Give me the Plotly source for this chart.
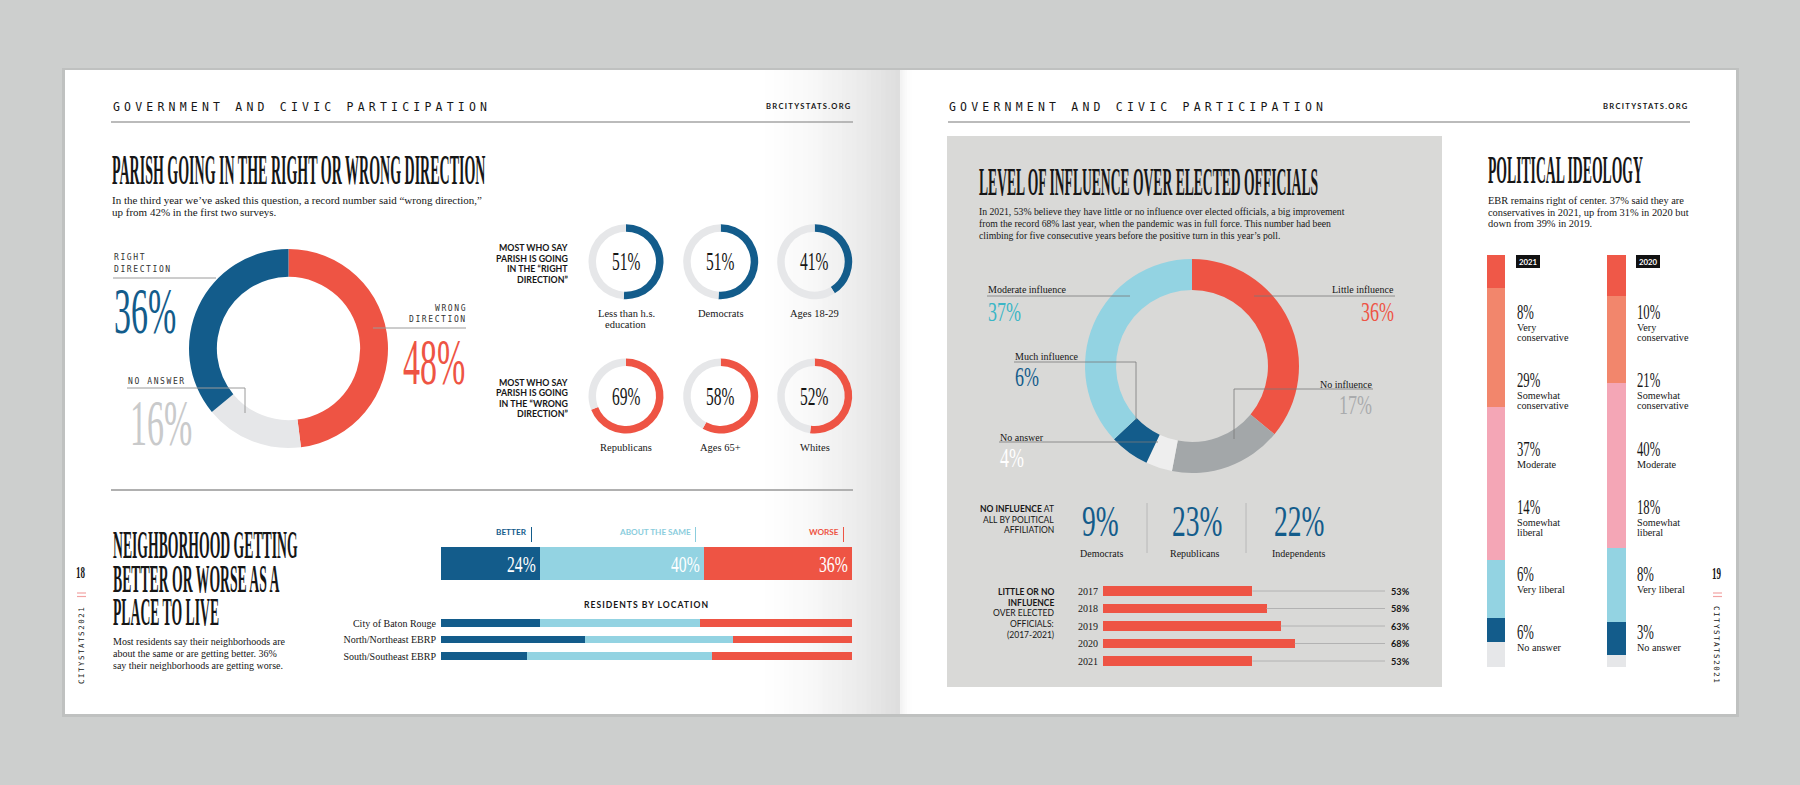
import plotly.graph_objects as go

W, H = 1800, 785
def X(x): return x / W
def Y(y): return 1 - y / H

# ---------------- data ----------------
direction_labels = ["Wrong direction", "No answer", "Right direction"]
direction_values = [48, 16, 36]

right_groups = [["Less than h.s.", "education"], ["Democrats"], ["Ages 18-29"]]
right_values = [51, 51, 41]
wrong_groups = [["Republicans"], ["Ages 65+"], ["Whites"]]
wrong_values = [69, 58, 52]

nb_categories = ["BETTER", "ABOUT THE SAME", "WORSE"]
nb_overall = [24, 40, 36]
locations = ["City of Baton Rouge", "North/Northeast EBRP", "South/Southeast EBRP"]
loc_better = [24, 35, 21]
loc_same = [39, 36, 45]
loc_worse = [37, 29, 34]

influence_labels = ["Little influence", "No influence", "No answer", "Much influence", "Moderate influence"]
influence_values = [36, 17, 4, 6, 37]

parties = ["Democrats", "Republicans", "Independents"]
party_no_influence = [9, 23, 22]

years = ["2017", "2018", "2019", "2020", "2021"]
little_or_no = [53, 58, 63, 68, 53]

ideology_years = ["2021", "2020"]
ideology_cats = ["Very conservative", "Somewhat conservative", "Moderate",
                 "Somewhat liberal", "Very liberal", "No answer"]
ideology_desc = [["Very", "conservative"], ["Somewhat", "conservative"], ["Moderate"],
                 ["Somewhat", "liberal"], ["Very liberal"], ["No answer"]]
ideology_2021 = [8, 29, 37, 14, 6, 6]
ideology_2020 = [10, 21, 40, 18, 8, 3]

# ---------------- style ----------------
BLUE = '#135c8b'; RED = '#ee5444'; LBLUE = '#93d3e2'; RINGGRAY = '#e6e7e9'
NOINF = '#a3a7a9'; TEAL = '#3ab6c6'; SALMON = '#f2866c'; PINK = '#f4a6b6'
TXT = '#161616'; RULE = '#9c9c9c'
SERIF = 'Liberation Serif'
SANS = 'Lato'
MONO = 'DejaVu Sans Mono'
def COND(s, gap=None):
    f = 'Liberation Sans Narrow, stretch%d' % s
    if gap is not None:
        f += ', linegap%d' % gap
    return f

ann = []
def T(x, y, s, size, color=TXT, family=SERIF, xa='left', ya='middle', angle=0,
      xref='paper', yref='paper', xshift=0, weight='normal', align='left'):
    ann.append(dict(x=X(x) if xref == 'paper' else x, y=Y(y) if yref == 'paper' else y,
                    xref=xref, yref=yref, text=s, showarrow=False, xanchor=xa, yanchor=ya,
                    textangle=angle, borderpad=0, xshift=xshift, align=align,
                    font=dict(size=size, color=color, family=family, weight=weight)))

shp = []
def R(x0, y0, x1, y1, fill, layer='below'):
    shp.append(dict(type='rect', xref='paper', yref='paper', x0=X(x0), x1=X(x1), y0=Y(y1), y1=Y(y0),
                    fillcolor=fill, line=dict(width=0), layer=layer))
def L(x0, y0, x1, y1, color=RULE, w=1, layer='above'):
    shp.append(dict(type='line', xref='paper', yref='paper', x0=X(x0), x1=X(x1), y0=Y(y0), y1=Y(y1),
                    line=dict(color=color, width=w), layer=layer))

fig = go.Figure()

# ---------------- pages ----------------
R(62, 68, 1739, 717, '#bfc1c0')
R(65, 70, 900, 714, 'white')
R(900, 70, 1736, 714, 'white')
n = 30
for i in range(n):
    t = (i + 0.5) / n
    x0 = 755 + (900 - 755) * i / n
    x1 = 755 + (900 - 755) * (i + 1) / n + 0.6
    v = int(round(255 - 34 * t ** 1.6))
    R(x0, 70, x1, 714, 'rgb(%d,%d,%d)' % (v, v, v))
m = 6
for i in range(m):
    t = (i + 0.5) / m
    x0 = 900 + 14 * i / m
    x1 = 900 + 14 * (i + 1) / m + 0.6
    v = int(round(255 - 14 * (1 - t) ** 2))
    R(x0, 70, x1, 714, 'rgb(%d,%d,%d)' % (v, v, v))
R(947, 136, 1442, 687, '#d9d9d7')

# ---------------- headers ----------------
HDR = '<span style="letter-spacing:4.2px">GOVERNMENT AND CIVIC PARTICIPATION</span>'
URL = '<span style="letter-spacing:1.3px"><b>BRCITYSTATS.ORG</b></span>'
T(112, 107, HDR, 11.5, family=MONO)
T(853, 106, URL, 7.6, family=SANS, xa='right')
L(111, 122, 853, 122, '#a5a5a5', 1.5)
T(948, 107, HDR, 11.5, family=MONO)
T(1690, 106, URL, 7.6, family=SANS, xa='right')
L(948, 122, 1690, 122, '#a5a5a5', 1.5)

# ---------------- donut helper ----------------
def donut(cx, cy, r, values, colors, hole):
    fig.add_trace(go.Pie(values=values, marker=dict(colors=colors, line=dict(width=0)), hole=hole,
                         sort=False, direction='clockwise', rotation=0, textinfo='none',
                         hoverinfo='skip', showlegend=False,
                         domain=dict(x=[X(cx - r), X(cx + r)], y=[Y(cy + r), Y(cy - r)])))

# ---------------- parish direction ----------------
T(111, 171, 'PARISH GOING IN THE RIGHT OR WRONG DIRECTION', 14.0, family=COND(299), weight='bold')
T(111, 200, 'In the third year we’ve asked this question, a record number said “wrong direction,”', 11)
T(111, 212, 'up from 42% in the first two surveys.', 11)

donut(288.5, 348.5, 99.5, direction_values, [RED, RINGGRAY, BLUE], 0.72)
MS = '<span style="letter-spacing:1.6px">%s</span>'
T(113, 258, MS % 'RIGHT', 8, color='#333', family=MONO)
T(113, 270, MS % 'DIRECTION', 8, color='#333', family=MONO)
L(113, 278, 216, 278, '#9a9a9a', 1)
T(113, 310, '%d%%' % direction_values[2], 34, color=BLUE, family=COND(193))
T(468, 308, MS % 'WRONG', 8, color='#333', family=MONO, xa='right')
T(468, 319, MS % 'DIRECTION', 8, color='#333', family=MONO, xa='right')
L(373, 328, 466, 328, '#9a9a9a', 1)
T(466, 361, '%d%%' % direction_values[0], 34, color=RED, family=COND(193), xa='right')
T(127, 381, MS % 'NO ANSWER', 8, color='#333', family=MONO)
L(127, 388, 245, 388, '#9a9a9a', 1)
L(245, 388, 245, 413, '#9a9a9a', 1)
T(129, 422, '%d%%' % direction_values[1], 34, color='#c9cacb', family=COND(193))

# small donuts
sx = [626, 720.7, 814.7]
rows = [(261.7, right_groups, right_values, BLUE, 313,
         ['MOST WHO SAY', 'PARISH IS GOING', 'IN THE “RIGHT', 'DIRECTION”'], [248, 258.5, 269, 279.5]),
        (396, wrong_groups, wrong_values, RED, 447,
         ['MOST WHO SAY', 'PARISH IS GOING', 'IN THE “WRONG', 'DIRECTION”'], [382, 392.5, 403, 413.5])]
for cy, groups, vals, col, ly, lab, laby in rows:
    for cx, g, v in zip(sx, groups, vals):
        donut(cx, cy, 37.5, [v, 100 - v], [col, RINGGRAY], 0.8)
        T(cx, cy, '%d%%' % v, 15.5, family=COND(162), xa='center')
        for k, line in enumerate(g):
            T(cx, ly + 11 * k, line, 10.5, xa='center')
    for s, yy in zip(lab, laby):
        T(569, yy, '<b>%s</b>' % s, 8.8, family=SANS, xa='right')

L(111, 490, 853, 490, '#b0b0b0', 2)

# ---------------- neighborhood ----------------
T(112, 521, 'NEIGHBORHOOD GETTING<br>BETTER OR WORSE AS A<br>PLACE TO LIVE', 13.7,
  family=COND(299, 82), weight='bold', ya='top', align='left')
T(112, 641, 'Most residents say their neighborhoods are', 10)
T(112, 653, 'about the same or are getting better. 36%', 10)
T(112, 665, 'say their neighborhoods are getting worse.', 10)

nb_colors = [BLUE, LBLUE, RED]
nb_label_colors = [BLUE, '#8bcddd', RED]
nb_label_x = [528, 692, 840]
for cat, v, c in zip(nb_categories, nb_overall, nb_colors):
    fig.add_trace(go.Bar(x=[v], y=['All'], orientation='h', marker=dict(color=c, line=dict(width=0)),
                         width=1, xaxis='x', yaxis='y', hoverinfo='skip', showlegend=False))
cum = 0
for cat, v, lc, lx in zip(nb_categories, nb_overall, nb_label_colors, nb_label_x):
    cum += v
    T(cum, 0, '%d%%' % v, 15.7, color='white', family=COND(150), xa='right',
      xref='x', yref='y', xshift=-3)
    T(lx, 532, '<b>%s</b>' % cat, 8.2, color=lc, family=SANS, xa='right')
    L(lx + 3.5, 527, lx + 3.5, 542, lc, 1)

T(646, 605, '<span style="letter-spacing:1px"><b>RESIDENTS BY LOCATION</b></span>', 8.6,
  family=SANS, xa='center')
for vals, c in zip([loc_better, loc_same, loc_worse], nb_colors):
    fig.add_trace(go.Bar(x=vals, y=locations, orientation='h', marker=dict(color=c, line=dict(width=0)),
                         width=0.48, xaxis='x2', yaxis='y2', hoverinfo='skip', showlegend=False))

# page markers
T(81, 573, '18', 9, family=COND(180), xa='center', weight='bold')
L(77, 593, 86, 593, '#f2a3a3', 1.2)
L(77, 596.5, 86, 596.5, '#f2a3a3', 1.2)
T(81, 645, '<span style="letter-spacing:1.5px">CITYSTATS2021</span>', 7.5, family=MONO,
  xa='center', angle=-90)
T(1717, 574, '19', 9, family=COND(180), xa='center', weight='bold')
L(1713, 593, 1722, 593, '#f2a3a3', 1.2)
L(1713, 596.5, 1722, 596.5, '#f2a3a3', 1.2)
T(1717, 645, '<span style="letter-spacing:1.5px">CITYSTATS2021</span>', 7.5, family=MONO,
  xa='center', angle=90)

# ---------------- influence ----------------
T(978, 182, 'LEVEL OF INFLUENCE OVER ELECTED OFFICIALS', 13.6, family=COND(297), weight='bold')
T(978, 212, 'In 2021, 53% believe they have little or no influence over elected officials, a big improvement', 9.7)
T(978, 224, 'from the record 68% last year, when the pandemic was in full force. This number had been', 9.7)
T(978, 236, 'climbing for five consecutive years before the positive turn in this year’s poll.', 9.7)

donut(1192, 366, 107, influence_values, [RED, NOINF, '#eeeeee', BLUE, LBLUE], 0.71)
LC = '#7a7a7a'
INF_S = 155
T(987, 290, influence_labels[4], 10)
L(987, 296, 1130, 296, LC, 0.8)
T(987, 312, '%d%%' % influence_values[4], 18, color=TEAL, family=COND(INF_S))
T(1395, 290, influence_labels[0], 10, xa='right')
L(1254, 296, 1395, 296, LC, 0.8)
T(1395, 312, '%d%%' % influence_values[0], 18, color=RED, family=COND(INF_S), xa='right')
T(1014, 356, influence_labels[3], 10)
L(1014, 362, 1136, 362, LC, 0.8)
L(1136, 362, 1136, 420, LC, 0.8)
T(1014, 377, '%d%%' % influence_values[3], 18, color=BLUE, family=COND(INF_S))
T(1373, 384, influence_labels[1], 10, xa='right')
L(1234, 389, 1373, 389, LC, 0.8)
L(1234, 389, 1234, 439, LC, 0.8)
T(1373, 405, '%d%%' % influence_values[1], 18, color='#a9abad', family=COND(INF_S), xa='right')
T(999, 437, influence_labels[2], 10)
L(999, 442, 1158, 442, LC, 0.8)
T(999, 458, '%d%%' % influence_values[2], 18, color='white', family=COND(INF_S))

for s, yy in zip(['<b>NO INFLUENCE</b> AT', 'ALL BY POLITICAL', 'AFFILIATION'], [509, 519.5, 530]):
    T(1055, yy, s, 8.5, family=SANS, xa='right')
party_x = [1081, 1171, 1273]
for p, v, xx in zip(parties, party_no_influence, party_x):
    T(xx, 520, '%d%%' % v, 27.5, color=BLUE, family=COND(165))
    T(xx - 2, 553, p, 10)
L(1147, 503, 1147, 553, '#b8b8b8', 1)
L(1246, 503, 1246, 553, '#b8b8b8', 1)

for s, yy in zip(['<b>LITTLE OR NO</b>', '<b>INFLUENCE</b>', 'OVER ELECTED', 'OFFICIALS:', '(2017-2021)'],
                 [592, 602.5, 613, 624, 635]):
    T(1055, yy, s, 8.5, family=SANS, xa='right')

gx, gy = [], []
for yr, v in zip(years, little_or_no):
    gx += [v, 100, None]
    gy += [yr, yr, None]
fig.add_trace(go.Scatter(x=gx, y=gy, mode='lines', line=dict(color='#b2b2b2', width=1),
                         xaxis='x3', yaxis='y3', hoverinfo='skip', showlegend=False))
fig.add_trace(go.Bar(x=little_or_no, y=years, orientation='h', marker=dict(color=RED, line=dict(width=0)),
                     width=0.55, xaxis='x3', yaxis='y3', hoverinfo='skip', showlegend=False))
for i, v in enumerate(little_or_no):
    T(100, i, '<b>%d%%</b>' % v, 9.2, family=SANS, xref='x3', yref='y3', xshift=5)

# ---------------- political ideology ----------------
T(1487, 170, 'POLITICAL IDEOLOGY', 13.7, family=COND(299), weight='bold')
T(1487, 201, 'EBR remains right of center. 37% said they are', 10.4)
T(1487, 212.5, 'conservatives in 2021, up from 31% in 2020 but', 10.4)
T(1487, 224, 'down from 39% in 2019.', 10.4)

ideo_colors = ['#ef5848', SALMON, PINK, LBLUE, BLUE, RINGGRAY]
for i, cat in enumerate(ideology_cats):
    fig.add_trace(go.Bar(x=ideology_years, y=[ideology_2021[i], ideology_2020[i]],
                         marker=dict(color=ideo_colors[i], line=dict(width=0)), width=0.154,
                         xaxis='x4', yaxis='y4', hoverinfo='skip', showlegend=False))
pct_y = [312, 380, 449, 507, 574, 632]
for yr, vals, xl in zip(ideology_years, [ideology_2021, ideology_2020], [1516, 1636]):
    R(xl, 255, xl + 24, 268, '#111111', layer='above')
    T(xl + 12, 261.5, '<b>%s</b>' % yr, 7.8, color='white', family=SANS, xa='center')
    for i in range(len(ideology_cats)):
        T(xl, pct_y[i], '%d%%' % vals[i], 12.7, family=COND(166))
        for k, line in enumerate(ideology_desc[i]):
            T(xl, pct_y[i] + 15.5 + 10 * k, line, 10.2)

axis_off = dict(visible=False, fixedrange=True)
fig.update_layout(
    width=W, height=H, margin=dict(l=0, r=0, t=0, b=0),
    paper_bgcolor='#cdcfce', plot_bgcolor='rgba(0,0,0,0)',
    barmode='stack', showlegend=False, hovermode=False,
    shapes=shp, annotations=ann,
    xaxis=dict(domain=[X(441), X(852)], range=[0, 100], anchor='y', **axis_off),
    yaxis=dict(domain=[Y(580), Y(547)], range=[-0.5, 0.5], anchor='x', **axis_off),
    xaxis2=dict(domain=[X(441), X(852)], range=[0, 100], anchor='y2', **axis_off),
    yaxis2=dict(domain=[Y(664.25), Y(614.75)], type='category', categoryorder='array',
                categoryarray=locations, range=[2.5, -0.5], anchor='x2', showgrid=False,
                zeroline=False, showline=False, ticks='', ticklabelstandoff=4,
                tickfont=dict(family=SERIF, size=10, color=TXT), fixedrange=True),
    xaxis3=dict(domain=[X(1103), X(1385)], range=[0, 100], anchor='y3', **axis_off),
    yaxis3=dict(domain=[Y(669.75), Y(582.25)], type='category', categoryorder='array',
                categoryarray=years, range=[4.5, -0.5], anchor='x3', showgrid=False,
                zeroline=False, showline=False, ticks='', ticklabelstandoff=4,
                tickfont=dict(family=SERIF, size=10, color=TXT), fixedrange=True),
    xaxis4=dict(domain=[X(1435.75), X(1676.75)], type='category', categoryorder='array',
                categoryarray=ideology_years, range=[-0.5, 1.5], anchor='y4', **axis_off),
    yaxis4=dict(domain=[Y(667), Y(255)], range=[100, 0], anchor='x4', **axis_off),
)

JS = """
var gd = document.getElementById('{plot_id}');
function stretchAll(){
  var ts = gd.querySelectorAll('text');
  for (var i = 0; i < ts.length; i++) {
    var t = ts[i];
    var ff = (t.style && t.style.fontFamily) || '';
    var m = ff.match(/stretch(\\d+)/);
    if (!m) continue;
    var s = parseInt(m[1], 10) / 100;
    var g = ff.match(/linegap(\\d+)/);
    if (g) {
      var gap = parseInt(g[1], 10) / 100;
      var lines = t.querySelectorAll('tspan.line');
      for (var j = 0; j < lines.length; j++) lines[j].setAttribute('dy', (j * gap) + 'em');
    }
    var orig = t.getAttribute('data-otr');
    if (orig === null) { orig = t.getAttribute('transform') || ''; t.setAttribute('data-otr', orig); }
    var bb = t.getBBox();
    var oy = g ? bb.y : bb.y + bb.height / 2;
    t.setAttribute('transform', orig + ' translate(0,' + oy + ') scale(1,' + s + ') translate(0,' + (-oy) + ')');
  }
}
stretchAll();
setTimeout(stretchAll, 150);
"""

fig.write_html("out.html", post_script=JS, config=dict(displayModeBar=False, staticPlot=True))
